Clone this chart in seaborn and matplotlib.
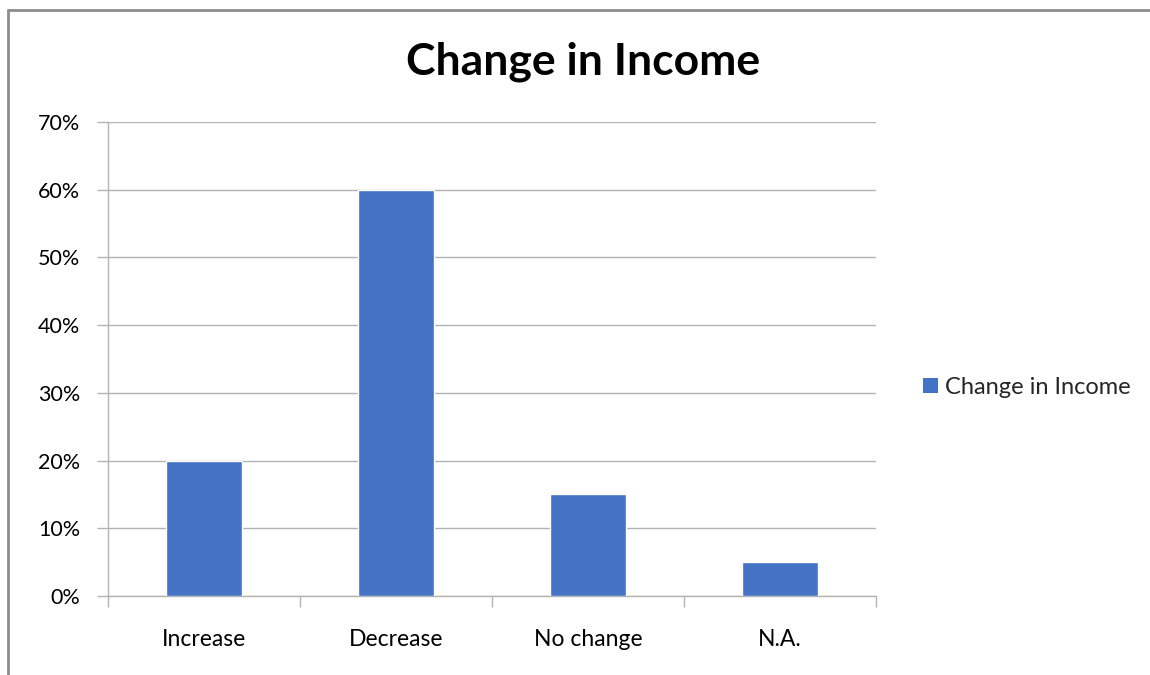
import matplotlib
matplotlib.use("Agg")
import matplotlib.pyplot as plt
import seaborn as sns
import pandas as pd
from matplotlib.lines import Line2D
from matplotlib.patches import Patch
from matplotlib.ticker import FuncFormatter, MultipleLocator

categories = ["Increase", "Decrease", "No change", "N.A."]
values = [0.20, 0.60, 0.15, 0.05]
series_name = "Change in Income"

sns.set_theme(style="white")
plt.rcParams['font.family'] = ['Lato', 'DejaVu Sans']

df = pd.DataFrame({"cat": categories, "val": values})

fig = plt.figure(figsize=(11.5, 6.75), dpi=100)
ax = fig.add_axes([108/1150, 79/675, 768/1150, 474/675])

sns.barplot(data=df, x="cat", y="val", color="#4472C4", width=0.4, saturation=1, ax=ax, zorder=3)

ax.set_ylim(0, 0.70)
ax.set_xlim(-0.5, 3.5)
ax.yaxis.set_major_locator(MultipleLocator(0.10))
ax.yaxis.set_major_formatter(FuncFormatter(lambda v, p: f"{v*100:.0f}%"))
ax.grid(axis="y", color="#b3b3b3", linewidth=1, zorder=0)
ax.set_xlabel("")
ax.set_ylabel("")

for s in ["top", "right"]:
    ax.spines[s].set_visible(False)
ax.spines["left"].set_color("#b3b3b3")
ax.spines["bottom"].set_color("#b3b3b3")
ax.spines["left"].set_linewidth(1)
ax.spines["bottom"].set_linewidth(1)

ax.tick_params(axis="y", length=8, width=1, color="#b3b3b3", labelsize=15.5, pad=12, left=True)
ax.tick_params(axis="x", length=0, labelsize=16.5, pad=24)
# x ticks at category boundaries
ax.set_xticks([-0.5, 0.5, 1.5, 2.5, 3.5], minor=True)
ax.tick_params(axis="x", which="minor", length=8, width=1, color="#b3b3b3", bottom=True)
for lbl in ax.get_xticklabels() + ax.get_yticklabels():
    lbl.set_color("#000000")

fig.text(583/1150, 1 - 62/675, "Change in Income", ha="center", va="center",
         fontsize=32, fontweight="bold", color="#000000")

handles = [Patch(facecolor="#4472C4", edgecolor="none", label=series_name)]
fig.legend(handles=handles, loc="center left", bbox_to_anchor=(914/1150, 1 - 387/675),
           frameon=False, fontsize=17, handlelength=0.6, handleheight=0.6,
           handletextpad=0.3, borderaxespad=0)

# chart frame (partially visible border)
fig.add_artist(Line2D([8/1150, 8/1150], [0, 1 - 10/675], transform=fig.transFigure,
                      color="#8c8c8c", linewidth=2))
fig.add_artist(Line2D([8/1150, 1], [1 - 10/675, 1 - 10/675], transform=fig.transFigure,
                      color="#8c8c8c", linewidth=2))

fig.savefig("out.png", dpi=100)
